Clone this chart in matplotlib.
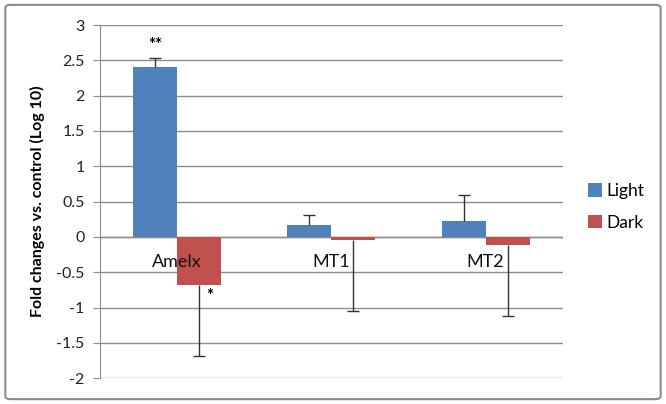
import matplotlib.pyplot as plt
import numpy as np
from matplotlib.patches import FancyBboxPatch

plt.rcParams['font.family'] = ['Lato', 'DejaVu Sans']

genes = ["Amelx", "MT1", "MT2"]
light = [2.41, 0.17, 0.23]
light_err = [0.13, 0.14, 0.36]
dark = [-0.68, -0.04, -0.12]
dark_err = [1.01, 1.01, 1.0]
yticks = [3, 2.5, 2, 1.5, 1, 0.5, 0, -0.5, -1, -1.5, -2]

blue = "#4F81BD"
red = "#C0504D"
grid = "#8C8C8C"
errc = "#333333"

fig = plt.figure(figsize=(6.66, 4.04), dpi=100)
border = FancyBboxPatch((0.008, 0.012), 0.984, 0.976, boxstyle="round,pad=0,rounding_size=0.008",
                        transform=fig.transFigure, fill=False, edgecolor="#8A8A8A", linewidth=1.5)
fig.patches.append(border)

ax = fig.add_axes([0.150, 0.064, 0.695, 0.874])
x = np.arange(len(genes))
w = 0.285
ax.bar(x - w / 2, light, w, color=blue, label="Light", zorder=3)
ax.bar(x + w / 2, dark, w, color=red, label="Dark", zorder=3)

# one-sided error bars: up for Light, down for Dark
light_top = np.array(light) + np.array(light_err)
dark_bot = np.array(dark) - np.array(dark_err)
ax.vlines(x - w / 2, light, light_top, color=errc, linewidth=1, zorder=4)
ax.plot(x - w / 2, light_top, ls="none", marker="_", ms=9, mew=1, color=errc, zorder=4)
ax.vlines(x + w / 2, dark, dark_bot, color=errc, linewidth=1, zorder=4)
ax.plot(x + w / 2, dark_bot, ls="none", marker="_", ms=9, mew=1, color=errc, zorder=4)

ax.set_xlim(-0.5, 2.5)
ax.set_ylim(-2, 3)
ax.set_yticks(yticks)
ax.set_yticklabels([f"{v:g}" for v in yticks], fontsize=11.5, color="#222222")
ax.yaxis.grid(True, color=grid, linewidth=1, zorder=0)
ax.set_xticks([])
for s in ["top", "right", "bottom"]:
    ax.spines[s].set_visible(False)
ax.spines["left"].set_color(grid)
ax.tick_params(axis="y", length=5, color=grid, pad=6)
ax.axhline(0, color=grid, linewidth=1, zorder=2)

for i, g in enumerate(genes):
    ax.text(i, -0.36, g, ha="center", va="center", fontsize=13, color="#111111", zorder=5)

ax.text(-w / 2, 2.6, "**", ha="center", va="bottom", fontsize=12, fontweight="bold")
ax.text(w / 2 + 0.07, -0.84, "*", ha="center", va="center", fontsize=12, fontweight="bold")

ax.set_ylabel("Fold changes vs. control (Log 10)", fontsize=11.5, fontweight="bold", labelpad=8)

ax.legend(loc="center left", bbox_to_anchor=(1.02, 0.485), frameon=False, fontsize=12.5,
          handlelength=0.8, handleheight=0.8, handletextpad=0.3, labelspacing=0.9)

fig.savefig("out.png", dpi=100)
